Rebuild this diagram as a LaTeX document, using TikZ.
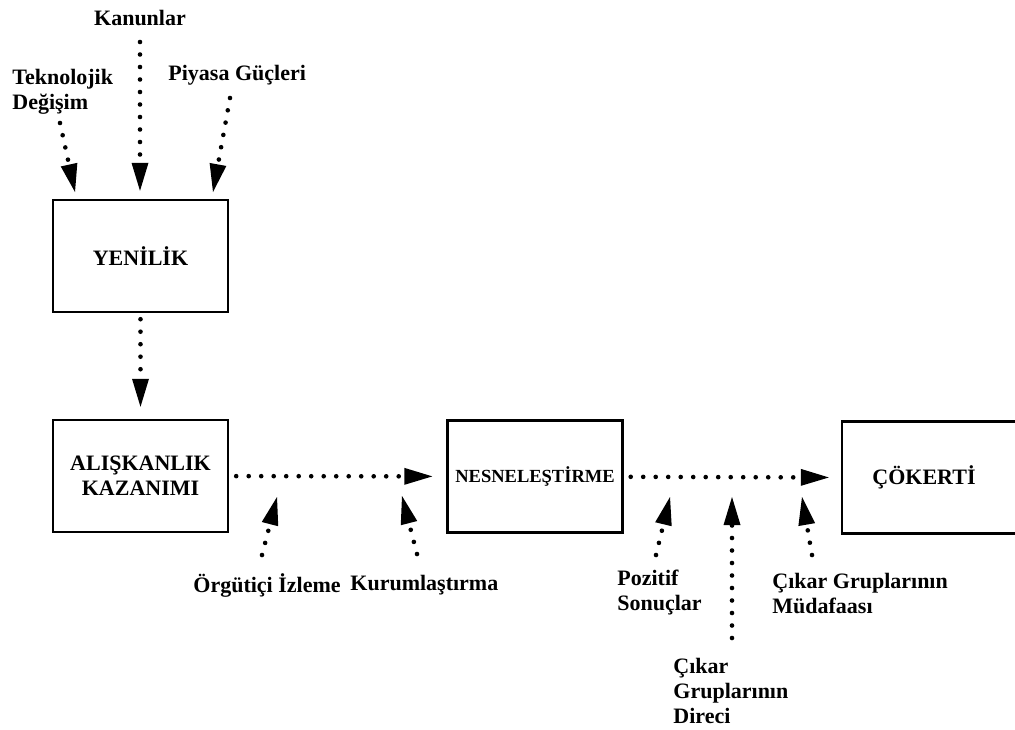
\documentclass[tikz,border=0pt]{standalone}
\usepackage{fontspec}
\setmainfont{Liberation Serif}
\usepackage{tikz}
\usetikzlibrary{arrows.meta, positioning, calc}

\begin{document}
\begin{tikzpicture}[
    x=0.5pt, y=-0.5pt,
    stage/.style={rectangle, draw, line width=1.2pt, minimum width=87.5pt, minimum height=56pt, align=center, font=\bfseries\fontsize{11}{12.5}\selectfont},
    factor/.style={align=left, inner sep=0pt, font=\bfseries\fontsize{11}{12.5}\selectfont},
    flow/.style={-{Triangle[length=14pt, width=8.5pt, line width=0pt]}, line width=2.3pt, line cap=round, dash pattern=on 0pt off 6.25pt}
]
\useasboundingbox (0,0) rectangle (1015,729);

% Stages
\node[stage] (yenilik) at (140.5,256) {YENİLİK};
\node[stage] (aliskanlik) at (140.5,476) {ALIŞKANLIK\\KAZANIMI};
\node[stage, font=\bfseries\fontsize{9.25}{11}\selectfont] (nesne) at (535,476.5) {NESNELEŞTİRME};
\node[stage, minimum width=90pt] (cokerti) at (932,477.5) {ÇÖKERTİ\hspace{8pt}};

% Factors
\node[factor] (kanun) at (140,18) {Kanunlar};
\node[factor, anchor=west] (teknoloji) at (12,92) {Teknolojik\\Değişim};
\node[factor, anchor=west] (piyasa) at (168,75) {Piyasa Güçleri};
\node[factor, anchor=west] (izleme) at (193,585) {Örgütiçi İzleme};
\node[factor, anchor=west] (kurum) at (350,585) {Kurumlaştırma};
\node[factor, anchor=west] (pozitif) at (617,593) {Pozitif\\Sonuçlar};
\node[factor, anchor=west] (direnc) at (673,691) {Çıkar\\Gruplarının\\Direci};
\node[factor, anchor=west] (mudafaa) at (772,593) {Çıkar Gruplarının\\Müdafaası};

% Free ends
\coordinate (tekS) at (60,123);
\coordinate (tekT) at (75,192);
\coordinate (piyS) at (230,98);
\coordinate (piyT) at (213,192);
\coordinate (izlS) at (262,555);
\coordinate (izlT) at (277,497);
\coordinate (kurS) at (417,554);
\coordinate (kurT) at (402,496);
\coordinate (pozS) at (656,555);
\coordinate (pozT) at (670,497);
\coordinate (dirS) at (732,638);
\coordinate (dirT) at (732,497);
\coordinate (mudS) at (812,555);
\coordinate (mudT) at (802,497);

% Main flow
\draw[flow, shorten <=3pt, shorten >=6pt] (yenilik) -- (aliskanlik);
\draw[flow, shorten <=3.5pt, shorten >=7pt] (aliskanlik) -- (nesne);
\draw[flow, shorten <=3.5pt, shorten >=6pt] (nesne) -- (cokerti.west);

% Influences
\draw[flow, shorten >=4pt] (kanun.south |- 0,42) -- (kanun.south |- yenilik.north);
\draw[flow] (tekS) -- (tekT);
\draw[flow] (piyS) -- (piyT);
\draw[flow] (izlS) -- (izlT);
\draw[flow] (kurS) -- (kurT);
\draw[flow] (pozS) -- (pozT);
\draw[flow] (dirS) -- (dirT);
\draw[flow] (mudS) -- (mudT);

\end{tikzpicture}
\end{document}
